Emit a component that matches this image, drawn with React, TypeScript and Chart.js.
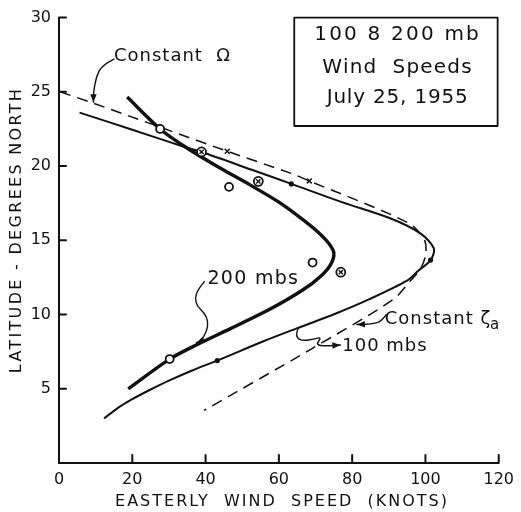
import React, { useEffect, useRef } from "react";
import { Chart, registerables } from "chart.js";

Chart.register(...registerables);

// ---- axis ticks ----
const xTicks = [0, 20, 40, 60, 80, 100, 120];
const yTicks = [5, 10, 15, 20, 25, 30];

// ---- curves (easterly wind speed in knots, latitude in degrees north) ----
const curve200x = [18.6, 27.6, 34.7, 43.7, 52, 59.8, 66, 70.5, 73.6, 75, 74.2, 71.5, 66.5, 57.5, 46.8, 37.9, 30.2, 18.9];
const curve200y = [24.65, 22.5, 21.25, 19.9, 18.75, 17.6, 16.5, 15.6, 14.8, 14.15, 13.4, 12.6, 11.65, 10.35, 9.05, 8.0, 7.0, 5.0];

const curve100x = [5.6, 20.0, 34.7, 38.9, 52.6, 63.4, 77.2, 90.7, 98.7, 102.3, 101.4, 97.8, 95.1, 84.4, 75.4, 64.7, 55.8, 43.2, 36.5, 30, 25, 20, 16, 12.3];
const curve100y = [23.6, 22.45, 21.25, 20.95, 19.75, 18.8, 17.57, 16.45, 15.45, 14.45, 13.67, 12.9, 12.3, 11.0, 10.05, 9.05, 8.2, 6.9, 6.25, 5.55, 4.95, 4.3, 3.7, 3.0];

const constX = [0.3, 9.2, 45.9, 63.4, 68.3, 95.1, 99.6, 100.1, 98.7, 96, 91.1, 68.7, 39.6];
const constY = [25.0, 24.25, 21.0, 19.5, 19.0, 16.2, 15.1, 14.1, 13.1, 12.3, 11.0, 7.66, 3.54];

// ---- observations ----
const open200x = [27.6, 46.4, 69.2, 30.2];
const open200y = [22.5, 18.6, 13.5, 7.0];
const cross200x = [38.9, 54.4, 76.9];
const cross200y = [20.95, 18.97, 12.85];
const dot100x = [63.4, 101.4, 43.2];
const dot100y = [18.8, 13.67, 6.9];
const xMarkX = [45.9, 68.3];
const xMarkY = [21.0, 19.0];

// ---- texts ----
const xTitle = "EASTERLY  WIND  SPEED  (KNOTS)";
const yTitle = "LATITUDE - DEGREES NORTH";
const boxLines = ["100 8 200 mb", "Wind  Speeds", "July 25, 1955"];
const labelOmega = "Constant  \u03A9";
const label200 = "200 mbs";
const labelZeta = "Constant \u03B6";
const labelZetaSub = "a";
const label100 = "100 mbs";

const INK = "#111";
const FONT = "'DejaVu Sans', sans-serif";

const pts = (xs: number[], ys: number[]) => xs.map((x, i) => ({ x, y: ys[i] }));

// annotation placement in data coordinates
const ANN = {
  omega: { x: 15.0, y: 27.4 },
  omegaArrow: [[15.0, 27.2], [11.8, 26.8], [10.2, 26.05], [9.4, 24.95], [9.4, 24.3]],
  l200: { x: 40.5, y: 12.36 },
  arrow200: [[39.65, 12.22], [37.85, 11.67], [37.13, 11.11], [37.66, 10.56], [39.65, 10.11], [40.72, 9.55], [40.35, 8.88], [38.74, 8.22], [37.5, 8.1]],
  zeta: { x: 88.9, y: 9.69 },
  zetaSub: { x: 117.6, y: 9.3 },
  arrowZeta: [[89.3, 10.0], [88.0, 9.55], [85.7, 9.37], [81.3, 9.33]],
  l100: { x: 77.3, y: 7.88 },
  arrow100: [[65.15, 9.0], [64.43, 8.48], [66.58, 8.22], [69.53, 8.35], [71.68, 8.48], [70.07, 7.95], [72.75, 7.88], [76.8, 7.95]],
  box: { x0: 64.2, x1: 119.7, y0: 30.0, y1: 22.7, cx: 92.4, lines: [28.86, 26.6, 24.62] },
};

function smoothStroke(ctx: CanvasRenderingContext2D, p: number[][]) {
  ctx.beginPath();
  ctx.moveTo(p[0][0], p[0][1]);
  for (let i = 1; i < p.length - 1; i++) {
    const mx = (p[i][0] + p[i + 1][0]) / 2;
    const my = (p[i][1] + p[i + 1][1]) / 2;
    ctx.quadraticCurveTo(p[i][0], p[i][1], mx, my);
  }
  ctx.lineTo(p[p.length - 1][0], p[p.length - 1][1]);
  ctx.stroke();
}

function arrowHead(ctx: CanvasRenderingContext2D, from: number[], to: number[], len = 8, half = 3.2) {
  const a = Math.atan2(to[1] - from[1], to[0] - from[0]);
  ctx.beginPath();
  ctx.moveTo(to[0], to[1]);
  ctx.lineTo(to[0] - len * Math.cos(a) + half * Math.sin(a), to[1] - len * Math.sin(a) - half * Math.cos(a));
  ctx.lineTo(to[0] - len * Math.cos(a) - half * Math.sin(a), to[1] - len * Math.sin(a) + half * Math.cos(a));
  ctx.closePath();
  ctx.fill();
}

const annotations = {
  id: "annotations",
  afterDraw(chart: any) {
    const { ctx, chartArea } = chart;
    const xs = chart.scales.x;
    const ys = chart.scales.y;
    const X = (v: number) => xs.getPixelForValue(v);
    const Y = (v: number) => ys.getPixelForValue(v);
    const P = (arr: number[][]) => arr.map(([a, b]) => [X(a), Y(b)]);

    ctx.save();
    ctx.strokeStyle = INK;
    ctx.fillStyle = INK;
    ctx.lineCap = "round";
    ctx.lineJoin = "round";

    // inward tick marks
    ctx.lineWidth = 2;
    yTicks.forEach((t) => {
      ctx.beginPath();
      ctx.moveTo(chartArea.left, Y(t));
      ctx.lineTo(chartArea.left + 7, Y(t));
      ctx.stroke();
    });
    xTicks.slice(1).forEach((t) => {
      ctx.beginPath();
      ctx.moveTo(X(t), chartArea.bottom);
      ctx.lineTo(X(t), chartArea.bottom - 8);
      ctx.stroke();
    });

    // axis titles
    (ctx as any).letterSpacing = "2px";
    ctx.font = `16px ${FONT}`;
    ctx.textAlign = "center";
    ctx.textBaseline = "middle";
    ctx.fillText(xTitle, 282, 502);
    ctx.save();
    ctx.translate(17, 230);
    ctx.rotate(-Math.PI / 2);
    (ctx as any).letterSpacing = "2.3px";
    ctx.fillText(yTitle, 0, 0);
    ctx.restore();

    // box
    const b = ANN.box;
    ctx.lineWidth = 1.8;
    ctx.strokeRect(X(b.x0), Y(b.y0), X(b.x1) - X(b.x0), Y(b.y1) - Y(b.y0));
    ctx.font = `20px ${FONT}`;
    const spacing = ["2.2px", "1.2px", "0.8px"];
    boxLines.forEach((t, i) => {
      (ctx as any).letterSpacing = spacing[i];
      ctx.fillText(t, X(b.cx), Y(b.lines[i]));
    });

    // labels
    ctx.textAlign = "left";
    ctx.font = `18px ${FONT}`;
    (ctx as any).letterSpacing = "1px";
    ctx.fillText(labelOmega, X(ANN.omega.x), Y(ANN.omega.y));
    ctx.fillText(labelZeta, X(ANN.zeta.x), Y(ANN.zeta.y));
    ctx.fillText(label100, X(ANN.l100.x), Y(ANN.l100.y));
    ctx.font = `19px ${FONT}`;
    (ctx as any).letterSpacing = "1.3px";
    ctx.fillText(label200, X(ANN.l200.x), Y(ANN.l200.y));
    ctx.font = `15px ${FONT}`;
    (ctx as any).letterSpacing = "0px";
    ctx.fillText(labelZetaSub, X(ANN.zetaSub.x), Y(ANN.zetaSub.y));

    // arrows
    ctx.lineWidth = 1.4;
    [ANN.omegaArrow, ANN.arrow200, ANN.arrowZeta, ANN.arrow100].forEach((arr) => {
      const p = P(arr);
      smoothStroke(ctx, p);
      arrowHead(ctx, p[p.length - 2], p[p.length - 1]);
    });

    ctx.restore();
  },
};

export default function App() {
  const ref = useRef<HTMLCanvasElement>(null);

  useEffect(() => {
    if (!ref.current) return;
    const tickFont = { family: FONT, size: 16 };
    const chart = new Chart(ref.current, {
      type: "scatter",
      data: {
        datasets: [
          {
            label: "200 mb observed",
            data: pts(open200x, open200y),
            pointStyle: "circle",
            pointRadius: 4,
            borderWidth: 1.8,
            borderColor: INK,
            backgroundColor: "#fff",
            order: 0,
          },
          {
            label: "circled cross (ring)",
            data: pts(cross200x, cross200y),
            pointStyle: "circle",
            pointRadius: 4.5,
            borderWidth: 1.8,
            borderColor: INK,
            backgroundColor: "#fff",
            order: 0,
          },
          {
            label: "circled cross (cross)",
            data: pts(cross200x, cross200y),
            pointStyle: "crossRot",
            pointRadius: 3,
            borderWidth: 1.4,
            borderColor: INK,
            order: -1,
          },
          {
            label: "100 mb observed",
            data: pts(dot100x, dot100y),
            pointStyle: "circle",
            pointRadius: 2.6,
            borderWidth: 0,
            backgroundColor: INK,
            borderColor: INK,
            order: 0,
          },
          {
            label: "x marks",
            data: pts(xMarkX, xMarkY),
            pointStyle: "crossRot",
            pointRadius: 3.5,
            borderWidth: 1.5,
            borderColor: INK,
            order: 0,
          },
          {
            label: "200 mbs",
            data: pts(curve200x, curve200y),
            showLine: true,
            tension: 0.3,
            borderColor: INK,
            borderWidth: 3.4,
            pointRadius: 0,
            order: 2,
          },
          {
            label: "100 mbs",
            data: pts(curve100x, curve100y),
            showLine: true,
            tension: 0.3,
            borderColor: INK,
            borderWidth: 2,
            pointRadius: 0,
            order: 2,
          },
          {
            label: "Constant",
            data: pts(constX, constY),
            showLine: true,
            tension: 0.3,
            borderColor: INK,
            borderWidth: 1.5,
            borderDash: [11, 7],
            pointRadius: 0,
            order: 2,
          },
        ],
      },
      options: {
        animation: false,
        responsive: false,
        devicePixelRatio: 1,
        layout: { padding: { top: 14, right: 15, bottom: 0, left: 0 } },
        plugins: { legend: { display: false }, tooltip: { enabled: false } },
        scales: {
          x: {
            type: "linear",
            min: 0,
            max: 120,
            afterBuildTicks: (s: any) => {
              s.ticks = xTicks.map((v) => ({ value: v }));
            },
            afterFit: (s: any) => {
              s.height = 49;
            },
            grid: { display: false, drawTicks: false },
            border: { display: true, color: INK, width: 2 },
            ticks: { color: INK, font: tickFont, padding: 7, maxRotation: 0, autoSkip: false },
          },
          y: {
            type: "linear",
            min: 0,
            max: 30,
            afterBuildTicks: (s: any) => {
              s.ticks = yTicks.map((v) => ({ value: v }));
            },
            afterFit: (s: any) => {
              s.width = 59;
            },
            grid: { display: false, drawTicks: false },
            border: { display: true, color: INK, width: 2 },
            ticks: { color: INK, font: tickFont, padding: 8, autoSkip: false },
          },
        },
      },
      plugins: [annotations],
    });
    return () => chart.destroy();
  }, []);

  return (
    <div style={{ position: "absolute", left: 0, top: 0, width: 521, height: 512, background: "#fff" }}>
      <canvas ref={ref} width={521} height={512} style={{ width: 521, height: 512, display: "block" }} />
    </div>
  );
}
